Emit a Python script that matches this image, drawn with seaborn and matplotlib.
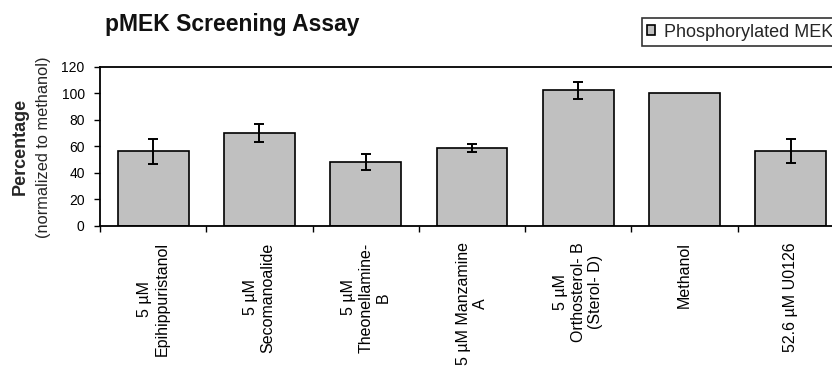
import matplotlib
matplotlib.use("Agg")
import matplotlib.pyplot as plt
import numpy as np
import pandas as pd
import seaborn as sns

# values
categories = [
    "5 µM\nEpihippuristanol",
    "5 µM\nSecomanoalide",
    "5 µM\nTheonellamine-\nB",
    "5 µM Manzamine\nA",
    "5 µM\nOrthosterol- B\n(Sterol- D)",
    "Methanol",
    "52.6 µM U0126",
]
values = [56, 70, 48, 58.5, 102, 100, 56]
errors = [9.7, 6.7, 6.0, 3.0, 6.5, 0.0, 9.0]
series_name = "Phosphorylated MEK"

sns.set_style("white")
plt.rcParams['font.family'] = ['Liberation Sans', 'DejaVu Sans']

df = pd.DataFrame({"compound": categories, "pct": values, "err": errors})

W, H = 832, 368
fig = plt.figure(figsize=(W / 100, H / 100), dpi=100)
# axes runs past the right edge like the cropped original
ax = fig.add_axes([100 / W, 1 - 225.7 / H, 744 / W, (225.7 - 66.5) / H])

sns.barplot(data=df, x="compound", y="pct", ax=ax, color="#c0c0c0",
            edgecolor="black", linewidth=1.2, width=0.667, errorbar=None,
            saturation=1, label=series_name)

# error bars (Methanol is the reference, no bar)
has_err = df["err"] > 0
xpos = np.arange(len(df))[has_err]
ax.errorbar(xpos, df["pct"][has_err], yerr=df["err"][has_err], fmt="none",
            ecolor="black", elinewidth=1.4, capsize=3.5, capthick=1.4)

ax.set_xlim(-0.5, len(categories) - 0.5)
ax.set_ylim(0, 120)
ax.set_yticks(np.arange(0, 121, 20))
ax.set_xlabel("")
ax.set_ylabel("")

for side in ["top", "bottom", "left", "right"]:
    ax.spines[side].set_color("black")
    ax.spines[side].set_linewidth(1.3)

ax.set_xticks(np.arange(-0.5, len(categories), 1), minor=True)
ax.tick_params(axis="x", which="major", length=0, pad=12)
ax.tick_params(axis="x", which="minor", length=4, width=1, color="black", direction="out", bottom=True)
ax.tick_params(axis="y", length=4, width=1, pad=7, color="black", direction="out", left=True,
               labelsize=10, labelcolor="black")
plt.setp(ax.get_xticklabels(), rotation=90, ha="center", va="top",
         multialignment="center", fontsize=11.5, linespacing=1.2, color="black")

fig.text(105 / W, 1 - 25 / H, "pMEK Screening Assay", fontsize=16.5,
         fontweight="bold", ha="left", va="center", color="#111111")
fig.text(20 / W, 1 - 146 / H, "Percentage", rotation=90, fontsize=13,
         fontweight="bold", ha="center", va="center")
fig.text(44 / W, 1 - 147 / H, "(normalized to methanol)", rotation=90,
         fontsize=11.8, ha="center", va="center")

leg = ax.legend(loc="upper left", bbox_to_anchor=(641.7 / W, 1 - 18.3 / H),
                bbox_transform=fig.transFigure, borderaxespad=0, fontsize=13,
                frameon=True, fancybox=False, handlelength=0.45, handleheight=0.45,
                handletextpad=0.5, borderpad=0.3)
leg.get_frame().set_edgecolor("black")
leg.get_frame().set_linewidth(1.2)

fig.savefig("out.png", dpi=100)
